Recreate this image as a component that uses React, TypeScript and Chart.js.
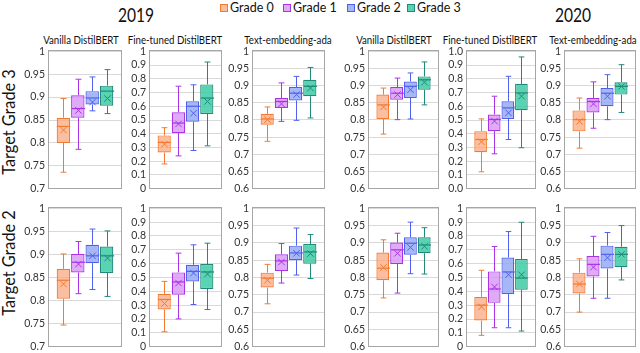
import React, { useEffect, useRef } from "react";
import { Chart, registerables } from "chart.js";
Chart.register(...registerables);

// ---------- data ----------
const GRADES = ["Grade 0", "Grade 1", "Grade 2", "Grade 3"];
const MODELS = ["Vanilla DistilBERT", "Fine-tuned DistilBERT", "Text-embedding-ada"];
const YEARS = ["2019", "2020"];
const TARGETS = ["Target Grade 3", "Target Grade 2"];

// tick values
const TICKS_07 = [0.7, 0.75, 0.8, 0.85, 0.9, 0.95, 1];
const TICKS_06 = [0.6, 0.65, 0.7, 0.75, 0.8, 0.85, 0.9, 0.95, 1];
const TICKS_01 = [0, 0.1, 0.2, 0.3, 0.4, 0.5, 0.6, 0.7, 0.8, 0.9, 1];

// per grade: [min, q1, median, q3, max, mean]
const T3_2019_VANILLA = [
  [0.736, 0.8, 0.836, 0.855, 0.897, 0.828],
  [0.786, 0.855, 0.875, 0.904, 0.939, 0.871],
  [0.87, 0.884, 0.898, 0.913, 0.944, 0.889],
  [0.864, 0.881, 0.913, 0.925, 0.96, 0.897],
];
const T3_2019_FINETUNED = [
  [0.18, 0.263, 0.337, 0.388, 0.444, 0.324],
  [0.239, 0.405, 0.478, 0.556, 0.746, 0.471],
  [0.278, 0.488, 0.6, 0.637, 0.756, 0.549],
  [0.312, 0.544, 0.66, 0.759, 0.922, 0.635],
];
const T3_2019_ADA = [
  [0.738, 0.786, 0.803, 0.818, 0.838, 0.801],
  [0.796, 0.835, 0.854, 0.864, 0.908, 0.847],
  [0.799, 0.857, 0.878, 0.896, 0.927, 0.874],
  [0.806, 0.869, 0.898, 0.917, 0.953, 0.893],
];
const T3_2020_VANILLA = [
  [0.759, 0.803, 0.844, 0.874, 0.893, 0.838],
  [0.801, 0.859, 0.878, 0.896, 0.922, 0.874],
  [0.803, 0.864, 0.898, 0.912, 0.937, 0.888],
  [0.844, 0.888, 0.917, 0.927, 0.969, 0.91],
];
const T3_2020_FINETUNED = [
  [0.123, 0.266, 0.358, 0.419, 0.508, 0.341],
  [0.254, 0.419, 0.504, 0.54, 0.673, 0.492],
  [0.358, 0.508, 0.588, 0.637, 0.818, 0.552],
  [0.298, 0.571, 0.697, 0.763, 0.959, 0.673],
];
const T3_2020_ADA = [
  [0.718, 0.767, 0.801, 0.828, 0.864, 0.796],
  [0.776, 0.822, 0.854, 0.864, 0.911, 0.847],
  [0.801, 0.84, 0.878, 0.893, 0.932, 0.869],
  [0.822, 0.874, 0.898, 0.91, 0.961, 0.898],
];
const T2_2019_VANILLA = [
  [0.747, 0.804, 0.844, 0.869, 0.901, 0.836],
  [0.815, 0.861, 0.883, 0.901, 0.928, 0.879],
  [0.824, 0.881, 0.897, 0.921, 0.955, 0.897],
  [0.809, 0.86, 0.897, 0.917, 0.951, 0.892],
];
const T2_2019_FINETUNED = [
  [0.108, 0.269, 0.341, 0.381, 0.472, 0.312],
  [0.201, 0.376, 0.468, 0.537, 0.676, 0.46],
  [0.305, 0.472, 0.544, 0.592, 0.736, 0.532],
  [0.269, 0.417, 0.54, 0.597, 0.748, 0.525],
];
const T2_2019_ADA = [
  [0.724, 0.771, 0.798, 0.814, 0.838, 0.792],
  [0.784, 0.819, 0.848, 0.867, 0.898, 0.845],
  [0.807, 0.85, 0.871, 0.892, 0.943, 0.87],
  [0.797, 0.84, 0.874, 0.897, 0.924, 0.869],
];
const T2_2020_VANILLA = [
  [0.741, 0.792, 0.827, 0.872, 0.909, 0.829],
  [0.755, 0.839, 0.88, 0.901, 0.928, 0.87],
  [0.811, 0.866, 0.899, 0.916, 0.96, 0.887],
  [0.81, 0.87, 0.894, 0.916, 0.944, 0.89],
];
const T2_2020_FINETUNED = [
  [0.082, 0.189, 0.3, 0.36, 0.552, 0.288],
  [0.137, 0.317, 0.417, 0.544, 0.724, 0.432],
  [0.137, 0.381, 0.54, 0.645, 0.832, 0.52],
  [0.113, 0.412, 0.496, 0.633, 0.899, 0.52],
];
const T2_2020_ADA = [
  [0.7, 0.754, 0.781, 0.814, 0.854, 0.781],
  [0.74, 0.803, 0.838, 0.862, 0.919, 0.83],
  [0.74, 0.826, 0.867, 0.892, 0.93, 0.857],
  [0.793, 0.83, 0.867, 0.889, 0.95, 0.867],
];

// ---------- styling / layout ----------
const FILL = ["rgba(250,168,128,0.75)", "rgba(215,150,245,0.8)", "rgba(150,170,245,0.85)", "rgba(60,205,165,0.85)"];
const STROKE = ["#F47A30", "#AA33E8", "#5060EE", "#21887A"];
const FONT = "Lato, 'Open Sans', sans-serif";
const COL_LEFT = [49, 150, 253, 369, 467, 565];
const COL_RIGHT = [121, 221, 324, 438, 535, 635];
const ROW_TOP = [51, 208];
const ROW_BOTTOM = [189, 347];
const TITLE_CENTER = [81, 175, 288, 394, 490, 593];
const AXIS_W = 40;
const PAD = 10;

const PANELS = [
  { row: 0, col: 0, stats: T3_2019_VANILLA, ticks: TICKS_07, oneDec: false },
  { row: 0, col: 1, stats: T3_2019_FINETUNED, ticks: TICKS_01, oneDec: false },
  { row: 0, col: 2, stats: T3_2019_ADA, ticks: TICKS_06, oneDec: false },
  { row: 0, col: 3, stats: T3_2020_VANILLA, ticks: TICKS_06, oneDec: false },
  { row: 0, col: 4, stats: T3_2020_FINETUNED, ticks: TICKS_01, oneDec: true },
  { row: 0, col: 5, stats: T3_2020_ADA, ticks: TICKS_06, oneDec: false },
  { row: 1, col: 0, stats: T2_2019_VANILLA, ticks: TICKS_07, oneDec: false },
  { row: 1, col: 1, stats: T2_2019_FINETUNED, ticks: TICKS_01, oneDec: false },
  { row: 1, col: 2, stats: T2_2019_ADA, ticks: TICKS_06, oneDec: false },
  { row: 1, col: 3, stats: T2_2020_VANILLA, ticks: TICKS_06, oneDec: false },
  { row: 1, col: 4, stats: T2_2020_FINETUNED, ticks: TICKS_01, oneDec: false },
  { row: 1, col: 5, stats: T2_2020_ADA, ticks: TICKS_06, oneDec: false },
];

const boxPlugin = {
  id: "boxWhiskers",
  afterDatasetsDraw(chart: any) {
    const ctx = chart.ctx;
    const ys = chart.scales.y;
    const Y = (v: number) => ys.getPixelForValue(v);
    chart.data.datasets.forEach((ds: any, i: number) => {
      const el = chart.getDatasetMeta(i).data[0];
      if (!el) return;
      const x = Math.round(el.x) + 0.5;
      const w = el.width;
      const [mn, q1, md, q3, mx, mean] = ds.stats;
      const cap = w * 0.22;
      ctx.save();
      ctx.strokeStyle = STROKE[i];
      ctx.lineWidth = 1;
      const line = (x1: number, y1: number, x2: number, y2: number) => {
        ctx.beginPath();
        ctx.moveTo(x1, y1);
        ctx.lineTo(x2, y2);
        ctx.stroke();
      };
      line(x, Y(q3), x, Y(mx));
      line(x - cap, Y(mx), x + cap, Y(mx));
      line(x, Y(q1), x, Y(mn));
      line(x - cap, Y(mn), x + cap, Y(mn));
      ctx.lineWidth = 1.2;
      line(x - w / 2, Y(md), x + w / 2, Y(md));
      ctx.lineWidth = 1;
      const s = 3.2;
      const ym = Y(mean);
      line(x - s, ym - s, x + s, ym + s);
      line(x - s, ym + s, x + s, ym - s);
      ctx.restore();
    });
  },
  afterDraw(chart: any) {
    const { left, top, right, bottom } = chart.chartArea;
    const ctx = chart.ctx;
    ctx.save();
    ctx.strokeStyle = "#A6A6A6";
    ctx.lineWidth = 1;
    ctx.strokeRect(Math.round(left) - 0.5, Math.round(top) - 0.5, Math.round(right - left) + 1, Math.round(bottom - top) + 1);
    ctx.restore();
  },
};

function Panel({ p }: { p: any }) {
  const ref = useRef<HTMLCanvasElement>(null);
  const plotW = COL_RIGHT[p.col] - COL_LEFT[p.col];
  const plotH = ROW_BOTTOM[p.row] - ROW_TOP[p.row];
  const width = plotW + AXIS_W + 3;
  const height = plotH + PAD * 2;
  const left = COL_LEFT[p.col] - AXIS_W;
  const top = ROW_TOP[p.row] - PAD;
  useEffect(() => {
    const ticks: number[] = p.ticks;
    const chart = new Chart(ref.current as HTMLCanvasElement, {
      type: "bar",
      data: {
        labels: [""],
        datasets: p.stats.map((s: number[], i: number) => ({
          label: GRADES[i],
          data: [[s[1], s[3]]],
          stats: s,
          backgroundColor: FILL[i],
          borderColor: STROKE[i],
          borderWidth: 1.2,
          borderSkipped: false,
          categoryPercentage: 0.8,
          barPercentage: 0.93,
        })),
      } as any,
      options: {
        responsive: false,
        animation: false,
        devicePixelRatio: 1,
        layout: { padding: { top: PAD, bottom: PAD, left: 0, right: 3 } },
        plugins: { legend: { display: false }, tooltip: { enabled: false } },
        scales: {
          x: { display: false },
          y: {
            min: ticks[0],
            max: ticks[ticks.length - 1],
            afterBuildTicks: (s: any) => {
              s.ticks = ticks.map((v) => ({ value: v }));
            },
            afterFit: (s: any) => {
              s.width = AXIS_W;
            },
            grid: { color: "#D9D9D9", drawTicks: false },
            border: { display: false },
            ticks: {
              autoSkip: false,
              padding: 4,
              color: "#333333",
              font: { family: FONT, size: 10.5 },
              callback: (v: any) => (p.oneDec ? Number(v).toFixed(1) : String(Number(Number(v).toFixed(2)))),
            },
          },
        },
      } as any,
      plugins: [boxPlugin],
    });
    return () => chart.destroy();
  }, []);
  return <canvas ref={ref} width={width} height={height} style={{ position: "absolute", left, top, width, height }} />;
}

export default function App() {
  const text = (extra: any) => ({ position: "absolute" as const, fontFamily: FONT, color: "#111", whiteSpace: "nowrap" as const, ...extra });
  const legendX = [220, 283, 347, 407];
  return (
    <div style={{ position: "absolute", left: 0, top: 0, width: 640, height: 353, background: "#fff", overflow: "hidden" }}>
      {/* year titles */}
      <div style={text({ left: 96, width: 80, top: 4, fontSize: 19, lineHeight: "22px", textAlign: "center", transform: "scaleX(0.82)" })}>{YEARS[0]}</div>
      <div style={text({ left: 533, width: 80, top: 4, fontSize: 19, lineHeight: "22px", textAlign: "center", transform: "scaleX(0.82)" })}>{YEARS[1]}</div>
      {/* legend */}
      {GRADES.map((g, i) => (
        <React.Fragment key={g}>
          <div style={{ position: "absolute", left: legendX[i], top: 4, width: 6, height: 6, background: FILL[i], border: `1px solid ${STROKE[i]}` }} />
          <div style={text({ left: legendX[i] + 10, top: 0, fontSize: 12.5, lineHeight: "15px" })}>{g}</div>
        </React.Fragment>
      ))}
      {/* panel titles */}
      {TITLE_CENTER.map((c, i) => (
        <div key={i} style={text({ left: c - 60, width: 120, top: 33, fontSize: 11, lineHeight: "13px", textAlign: "center", transform: "scaleX(0.88)" })}>
          {MODELS[i % 3]}
        </div>
      ))}
      {/* row labels */}
      {[122, 263].map((cy, i) => (
        <div key={i} style={text({ left: 9 - 70, width: 140, top: cy - 10, fontSize: 17, lineHeight: "20px", textAlign: "center", transform: "rotate(-90deg) scaleX(0.96)" })}>
          {TARGETS[i]}
        </div>
      ))}
      {PANELS.map((p, i) => (
        <Panel key={i} p={p} />
      ))}
    </div>
  );
}
